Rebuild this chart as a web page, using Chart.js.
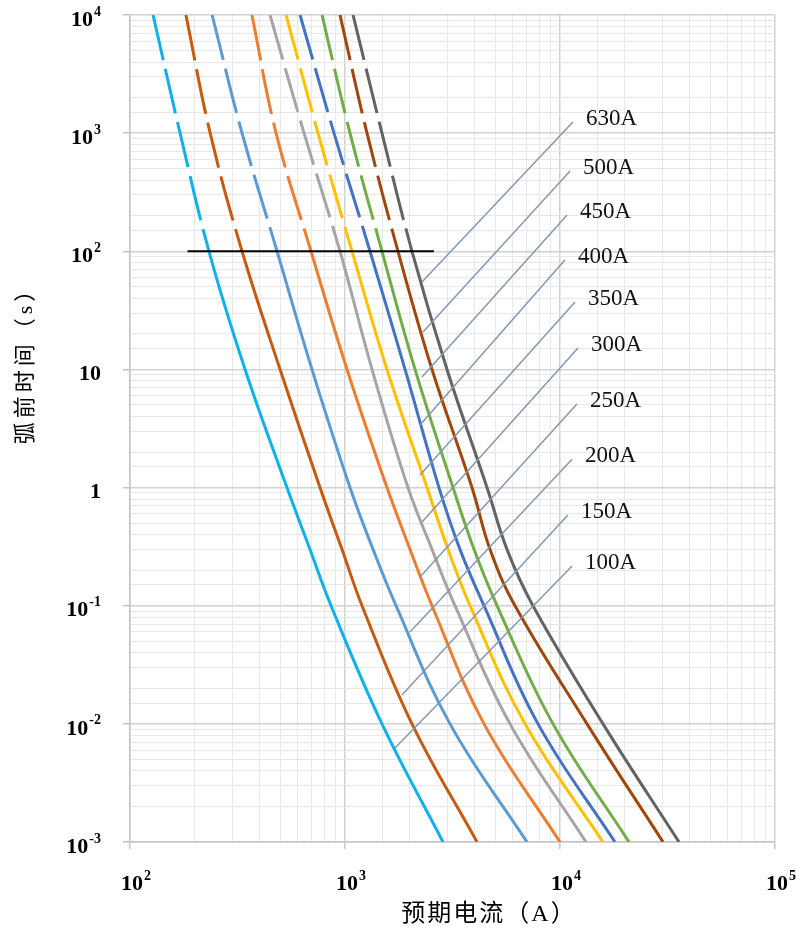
<!DOCTYPE html>
<html>
<head>
<meta charset="utf-8">
<script src="https://cdn.jsdelivr.net/npm/chart.js@4.4.0/dist/chart.umd.min.js"></script>
<style>
  html, body { margin: 0; padding: 0; background: #fff; }
  #wrap { width: 796px; height: 937px; position: relative; }
</style>
</head>
<body>
<div id="wrap"><canvas id="c"></canvas></div>
<script>
/* ---------- dados ---------- */
const times = [1e4, 1e3, 100, 10, 1, 0.3, 0.1, 0.01, 0.001];
const ratings = ['100A', '150A', '200A', '250A', '300A', '350A', '400A', '450A', '500A', '630A'];
const colors = ['#0fb0ec', '#c55a11', '#5b9bd5', '#ed7d31', '#a5a5a5', '#ffc000', '#4472c4', '#70ad47', '#9e480e', '#636363'];

const i100 = [128, 171, 233, 343, 537, 687, 861, 1486, 2857];
const i150 = [182, 236, 332, 499, 765, 968, 1200, 2049, 4111];
const i200 = [241, 332, 483, 702, 1055, 1350, 1727, 3079, 7022];
const i250 = [369, 478, 695, 1022, 1568, 2006, 2539, 4432, 10000];
const i300 = [448, 645, 948, 1336, 1963, 2539, 3248, 5854, 13210];
const i350 = [532, 749, 1078, 1568, 2407, 3014, 3815, 6874, 15850];
const i400 = [618, 889, 1307, 1902, 2736, 3426, 4432, 7901, 18020];
const i450 = [782, 1055, 1486, 2117, 3179, 3981, 5093, 9278, 20940];
const i500 = [948, 1266, 1764, 2539, 3895, 4724, 6177, 13350, 30140];
const i630 = [1090, 1486, 2049, 2982, 4576, 5667, 7488, 15850, 35770];
const currents = [i100, i150, i200, i250, i300, i350, i400, i450, i500, i630];

// linhas de chamada (ponto na curva -> rótulo)
const leadX0 = [1709, 1841, 2005, 2233, 2281, 2233, 2233, 2281, 2306, 2281];
const leadY0 = [0.00625, 0.01754, 0.0599, 0.175, 0.511, 1.28, 3.39, 8.63, 20.7, 54.9];
const leadX1 = [11380, 10890, 11380, 11990, 12130, 11750, 10540, 10790, 11144, 11482];
const leadY1 = [0.217, 0.586, 1.74, 5.10, 15.2, 37.2, 84.4, 203, 478, 1242];

// linha preta de referência em 100 s
const refX = [185, 2590];
const refY = [100, 100];

const xTicks = [1e2, 1e3, 1e4, 1e5];
const yTicks = [1e-3, 1e-2, 1e-1, 1, 10, 1e2, 1e3, 1e4];

/* ---------- datasets ---------- */
const isDecade = (v) => { const l = Math.log10(v); return Math.abs(l - Math.round(l)) < 1e-6; };

const curveSets = currents.map((arr, k) => ({
  label: ratings[k],
  data: arr.map((x, j) => ({ x, y: times[j] })),
  borderColor: colors[k], borderWidth: 3, pointRadius: 0,
  tension: 0.4, order: 2,
  segment: { borderDash: (c) => (c.p0.parsed.y > 100 ? [46, 9] : undefined) },
}));

const leadSets = ratings.map((r, k) => ({
  label: 'lead ' + r,
  data: [{ x: leadX0[k], y: leadY0[k] }, { x: leadX1[k], y: leadY1[k] }],
  borderColor: '#8497b0', borderWidth: 1.5, pointRadius: 0, order: 1,
}));

const refSet = {
  label: 'ref',
  data: refX.map((x, j) => ({ x, y: refY[j] })),
  borderColor: '#000', borderWidth: 2, pointRadius: 0, order: 0,
};

/* ---------- textos desenhados à mão (expoentes, títulos, rótulos) ---------- */
function pow10(ctx, e, x, y, alignRight) {
  const base = e === 0 ? '1' : '10';
  const sup = (e === 0 || e === 1) ? '' : String(e);
  ctx.font = 'bold 22px "Liberation Serif"';
  const wb = ctx.measureText(base).width;
  ctx.font = 'bold 14px "Liberation Serif"';
  const ws = sup ? ctx.measureText(sup).width + 1 : 0;
  const x0 = alignRight ? x - wb - ws : x;
  ctx.font = 'bold 22px "Liberation Serif"';
  ctx.fillText(base, x0, y);
  if (sup) {
    ctx.font = 'bold 14px "Liberation Serif"';
    ctx.fillText(sup, x0 + wb + 1, y - 8);
  }
}

const textPlugin = {
  id: 'texts',
  afterDraw(chart) {
    const { ctx, scales: { x, y } } = chart;
    ctx.save();
    ctx.fillStyle = '#000';
    ctx.textAlign = 'left';
    ctx.textBaseline = 'middle';

    yTicks.forEach((v) => pow10(ctx, Math.round(Math.log10(v)), 101, y.getPixelForValue(v) + 5, true));
    xTicks.forEach((v) => pow10(ctx, Math.round(Math.log10(v)), x.getPixelForValue(v) - 9, 884, false));

    // rótulos das correntes nominais
    ctx.font = '23px "Liberation Serif"';
    ctx.fillStyle = '#111';
    ratings.forEach((r, k) => {
      ctx.fillText(r, x.getPixelForValue(leadX1[k]) + 13, y.getPixelForValue(leadY1[k]) - 3);
    });

    // títulos dos eixos
    ctx.fillStyle = '#000';
    ctx.textAlign = 'center';
    ctx.font = '24px "Liberation Serif", "Noto Sans CJK SC"';
    ctx.letterSpacing = '2px';
    ctx.fillText('预期电流（A）', 489, 915);

    ctx.translate(26, 360);
    ctx.rotate(-Math.PI / 2);
    ctx.font = '22px "Liberation Serif", "Noto Sans CJK SC"';
    ctx.letterSpacing = '4px';
    ctx.fillText('弧前时间（s）', 0, 0);
    ctx.restore();
  },
};

/* ---------- eixos ---------- */
const axis = (min, max, size) => ({
  type: 'logarithmic', min, max,
  afterFit: size,
  ticks: { display: false },
  border: { color: '#c4c4c4', width: 1.5 },
  grid: {
    color: (c) => (isDecade(c.tick.value) ? '#d2d2d2' : '#e8e8e8'),
    lineWidth: (c) => (isDecade(c.tick.value) ? 1.5 : 1),
    tickColor: (c) => (isDecade(c.tick.value) ? '#c4c4c4' : 'rgba(0,0,0,0)'),
    tickLength: 7,
  },
});

new Chart(document.getElementById('c'), {
  type: 'line',
  data: { datasets: [refSet, ...leadSets, ...curveSets] },
  options: {
    responsive: true, maintainAspectRatio: false, animation: false,
    layout: { padding: { top: 15, right: 21, left: 0, bottom: 0 } },
    plugins: { legend: { display: false }, tooltip: { enabled: false } },
    scales: {
      x: axis(100, 1e5, (s) => { s.height = 95; }),
      y: axis(0.001, 1e4, (s) => { s.width = 130; }),
    },
  },
  plugins: [textPlugin],
});
</script>
</body>
</html>
